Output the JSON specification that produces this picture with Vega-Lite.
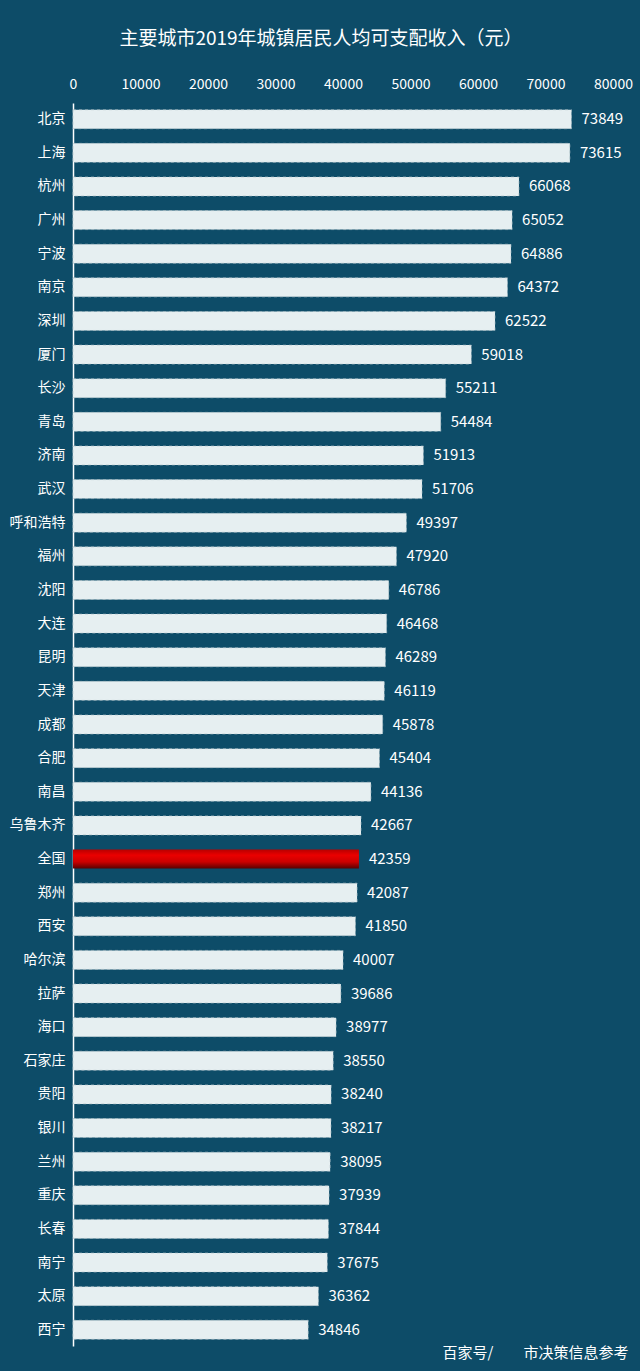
{
  "$schema": "https://vega.github.io/schema/vega-lite/v6.json",
  "autosize": {"type": "none"},
  "width": 540,
  "height": 1243,
  "padding": {"left": 73, "top": 103, "right": 27, "bottom": 25},
  "background": "#0d4c68",
  "config": {"view": {"stroke": null}, "font": "Noto Sans CJK SC"},
  "title": {
    "text": "主要城市2019年城镇居民人均可支配收入（元）",
    "color": "#ffffff",
    "fontSize": 19,
    "fontWeight": "normal",
    "font": "Noto Sans CJK SC",
    "anchor": "middle",
    "dx": -22,
    "offset": 28
  },
  "data": {
    "values": [
      {"city": "北京", "value": 73849},
      {"city": "上海", "value": 73615},
      {"city": "杭州", "value": 66068},
      {"city": "广州", "value": 65052},
      {"city": "宁波", "value": 64886},
      {"city": "南京", "value": 64372},
      {"city": "深圳", "value": 62522},
      {"city": "厦门", "value": 59018},
      {"city": "长沙", "value": 55211},
      {"city": "青岛", "value": 54484},
      {"city": "济南", "value": 51913},
      {"city": "武汉", "value": 51706},
      {"city": "呼和浩特", "value": 49397},
      {"city": "福州", "value": 47920},
      {"city": "沈阳", "value": 46786},
      {"city": "大连", "value": 46468},
      {"city": "昆明", "value": 46289},
      {"city": "天津", "value": 46119},
      {"city": "成都", "value": 45878},
      {"city": "合肥", "value": 45404},
      {"city": "南昌", "value": 44136},
      {"city": "乌鲁木齐", "value": 42667},
      {"city": "全国", "value": 42359},
      {"city": "郑州", "value": 42087},
      {"city": "西安", "value": 41850},
      {"city": "哈尔滨", "value": 40007},
      {"city": "拉萨", "value": 39686},
      {"city": "海口", "value": 38977},
      {"city": "石家庄", "value": 38550},
      {"city": "贵阳", "value": 38240},
      {"city": "银川", "value": 38217},
      {"city": "兰州", "value": 38095},
      {"city": "重庆", "value": 37939},
      {"city": "长春", "value": 37844},
      {"city": "南宁", "value": 37675},
      {"city": "太原", "value": 36362},
      {"city": "西宁", "value": 34846}
    ]
  },
  "encoding": {
    "y": {
      "field": "city",
      "type": "nominal",
      "sort": null,
      "scale": {
        "domain": ["北京", "上海", "杭州", "广州", "宁波", "南京", "深圳", "厦门", "长沙", "青岛", "济南", "武汉", "呼和浩特", "福州", "沈阳", "大连", "昆明", "天津", "成都", "合肥", "南昌", "乌鲁木齐", "全国", "郑州", "西安", "哈尔滨", "拉萨", "海口", "石家庄", "贵阳", "银川", "兰州", "重庆", "长春", "南宁", "太原", "西宁"],
        "paddingInner": 0.435,
        "paddingOuter": 0.2
      },
      "axis": {
        "title": null,
        "domain": true,
        "domainColor": "#ffffff",
        "domainWidth": 1.5,
        "ticks": false,
        "labelColor": "#ffffff",
        "labelFontSize": 14,
        "labelPadding": 8,
        "labelFont": "Noto Sans CJK SC"
      }
    }
  },
  "layer": [
    {
      "transform": [{"filter": "datum.city !== '全国'"}],
      "mark": {"type": "bar", "color": "#e6eff1", "stroke": "#aebfc6", "strokeWidth": 0.6, "strokeDash": [3, 3]},
      "encoding": {
        "x": {
          "field": "value",
          "type": "quantitative",
          "scale": {"domain": [0, 80000], "nice": false},
          "axis": {
            "orient": "top",
            "title": null,
            "values": [0, 10000, 20000, 30000, 40000, 50000, 60000, 70000, 80000],
            "format": "d",
            "domain": false,
            "ticks": false,
            "grid": false,
            "labelColor": "#ffffff",
            "labelFontSize": 14,
            "labelPadding": 12,
            "labelFont": "Noto Sans CJK SC",
            "labelOverlap": false,
            "labelFlush": false
          }
        }
      }
    },
    {
      "transform": [{"filter": "datum.city === '全国'"}],
      "mark": {
        "type": "bar",
        "color": {
          "gradient": "linear",
          "x1": 0, "y1": 0, "x2": 0, "y2": 1,
          "stops": [
            {"offset": 0, "color": "#b80000"},
            {"offset": 0.3, "color": "#ea0000"},
            {"offset": 0.65, "color": "#cc0000"},
            {"offset": 1, "color": "#5a0000"}
          ]
        }
      },
      "encoding": {
        "x": {
          "field": "value",
          "type": "quantitative",
          "axis": {
            "orient": "bottom",
            "title": "百家号/　　市决策信息参考",
            "titleColor": "#ffffff",
            "titleFontSize": 15,
            "titleFontWeight": "normal",
            "titleFont": "Noto Sans CJK SC",
            "titleAnchor": "end",
            "titleAlign": "right",
            "titleBaseline": "middle",
            "titleY": 6,
            "titleX": 555,
            "labels": false,
            "ticks": false,
            "domain": false,
            "grid": false
          }
        }
      }
    },
    {
      "mark": {"type": "text", "align": "left", "baseline": "middle", "dx": 10, "color": "#ffffff", "fontSize": 15, "font": "Noto Sans CJK SC"},
      "encoding": {
        "x": {"field": "value", "type": "quantitative", "axis": null},
        "text": {"field": "value", "type": "quantitative", "format": "d"}
      }
    }
  ],
  "resolve": {"axis": {"x": "independent"}}
}
